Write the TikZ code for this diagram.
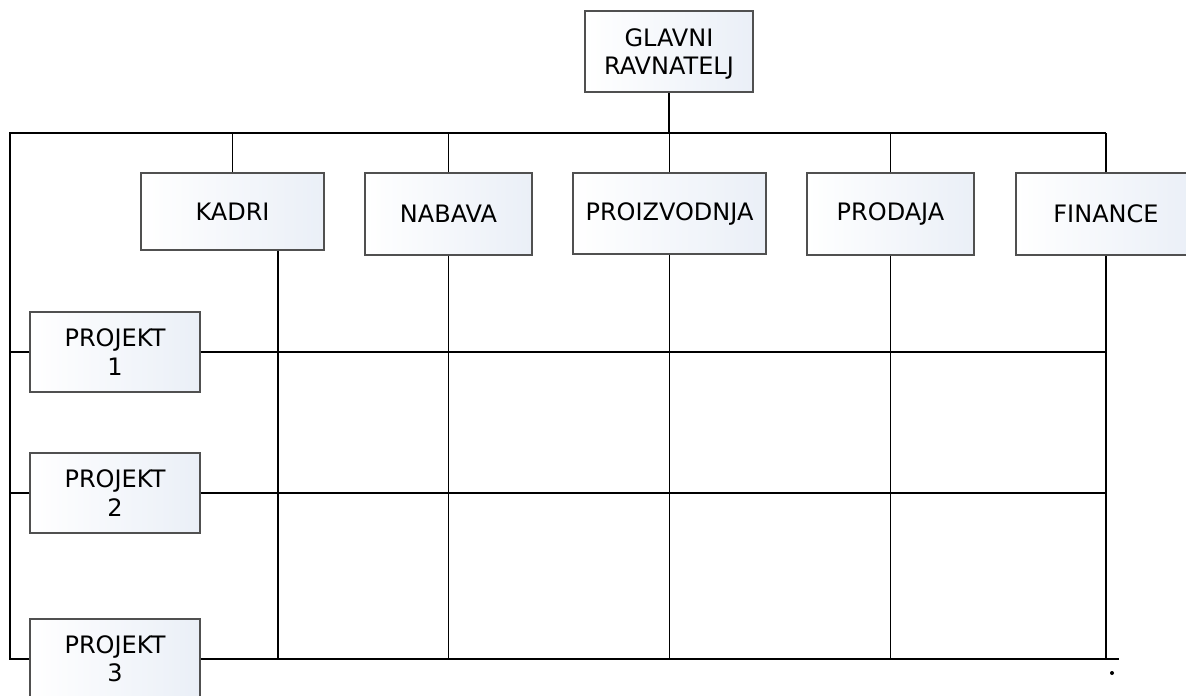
\documentclass[tikz,border=0pt]{standalone}
\usepackage{fontspec}
\setmainfont{DejaVu Sans}
\usetikzlibrary{calc}
\definecolor{boxtint}{RGB}{234,239,247}
\definecolor{boxedge}{RGB}{80,80,80}
\tikzset{
  unit/.style={draw=boxedge, line width=1.3pt, left color=white, right color=boxtint,
    inner sep=0pt, align=center, font=\fontsize{24}{28.5}\selectfont},
  wire/.style={line width=1.6pt, black}
}

\begin{document}
\begin{tikzpicture}[x=1pt, y=-1pt]
\useasboundingbox (0,0) rectangle (1186,696);
% head
\node[unit, minimum width=168pt, minimum height=81pt, text depth=0pt] (glavni) at (669,51.5) {GLAVNI\\RAVNATELJ};
% departments
\node[unit, minimum width=183pt, minimum height=77pt] (kadri) at (232.5,211.5) {KADRI};
\node[unit, minimum width=167pt, minimum height=82pt] (nabava) at (448.5,214) {NABAVA};
\node[unit, minimum width=193pt, minimum height=81pt] (proizv) at (669.5,213.5) {PROIZVODNJA};
\node[unit, minimum width=167pt, minimum height=82pt] (prodaja) at (890.5,214) {PRODAJA};
\node[unit, minimum width=180pt, minimum height=82pt] (finance) at (1106,214) {FINANCE};
% projects
\foreach \n/\y in {1/352,2/493,3/659}
  \node[unit, minimum width=170pt, minimum height=80pt] (proj\n) at (115,\y) {PROJEKT\\\n};

\coordinate (busL) at (10,133);
\coordinate (busR) at (1106,133);
\coordinate (floor) at (0,659);
\coordinate (tail) at (1119,659);
\coordinate (kadriout) at ($(kadri.south)+(45.5,0)$);

\draw[wire] (glavni.south) -- (glavni.south |- busL);
\draw[wire] (proj3.west) -- (proj3.west -| busL) -- (busL) -- (busR);
\foreach \d in {kadri,nabava,proizv,prodaja,finance}
  \draw[wire] (\d.north) -- (\d.north |- busL);
\foreach \p in {proj1,proj2}
  \draw[wire] (\p.west) -- (\p.west -| busL);
% matrix lines
\draw[wire] (kadriout) -- (kadriout |- floor);
\foreach \d in {nabava,proizv,prodaja,finance}
  \draw[wire] (\d.south) -- (\d.south |- floor);
\foreach \p in {proj1,proj2}
  \draw[wire] (\p.east) -- (\p.east -| finance.south);
\draw[wire] (proj3.east) -- (proj3.east -| tail);
\fill (1112,673) circle (2pt);
\end{tikzpicture}
\end{document}
